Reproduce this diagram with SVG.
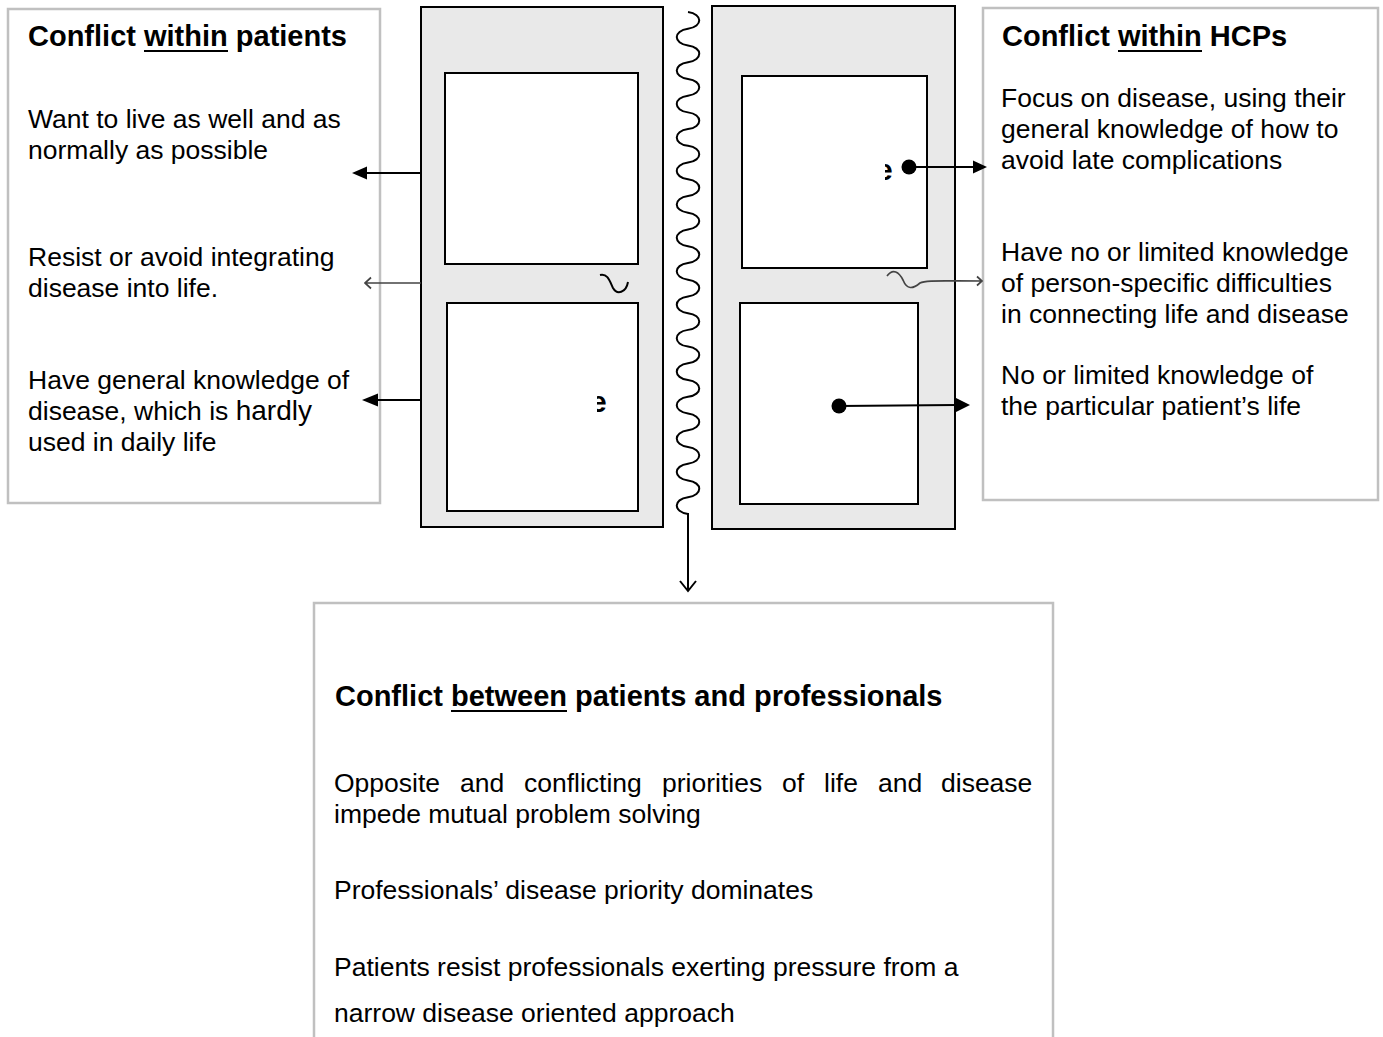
<svg xmlns="http://www.w3.org/2000/svg" width="1383" height="1037" viewBox="0 0 1383 1037">
<style>
.tb{fill:#fff;stroke:#c0c0c0;stroke-width:2.5}
.panel{fill:#e9e9e9;stroke:#000;stroke-width:2}
.inner{fill:#fff;stroke:#000;stroke-width:2}
.t{font-family:"Liberation Sans",Arial,sans-serif;font-size:26.5px;fill:#000}
.h{font-family:"Liberation Sans",Arial,sans-serif;font-size:29px;font-weight:bold;fill:#000}
.ul{stroke:#000;stroke-width:2.2}
.ln{stroke:#000;stroke-width:2;fill:none}
.gl{stroke:#444;stroke-width:1.7;fill:none}
.frag{font-family:"Liberation Sans",Arial,sans-serif;font-size:30px;font-weight:bold;fill:#000}
</style>
<defs>
<clipPath id="c1"><rect x="597" y="380" width="20" height="40"/></clipPath>
<clipPath id="c2"><rect x="885" y="150" width="20" height="40"/></clipPath>
</defs>

<g id="patients-box">
<rect class="tb" x="8" y="9" width="372" height="494"/>
<text class="h" x="28" y="46">Conflict within patients</text>
<line class="ul" x1="144" y1="51" x2="228" y2="51"/>
<text class="t" x="28" y="128">Want to live as well and as</text>
<text class="t" x="28" y="159">normally as possible</text>
<text class="t" x="28" y="266">Resist or avoid integrating</text>
<text class="t" x="28" y="297">disease into life.</text>
<text class="t" x="28" y="389">Have general knowledge of</text>
<text class="t" x="28" y="420">disease, which is <tspan font-size="28">hardly</tspan></text>
<text class="t" x="28" y="451">used in daily life</text>
</g>

<g id="hcps-box">
<rect class="tb" x="983" y="8" width="395" height="492"/>
<text class="h" x="1002" y="46">Conflict within HCPs</text>
<line class="ul" x1="1118" y1="51" x2="1202" y2="51"/>
<text class="t" x="1001" y="107">Focus on disease, using their</text>
<text class="t" x="1001" y="138">general knowledge of how to</text>
<text class="t" x="1001" y="169">avoid late complications</text>
<text class="t" x="1001" y="261">Have no or limited knowledge</text>
<text class="t" x="1001" y="292">of person-specific difficulties</text>
<text class="t" x="1001" y="323">in connecting life and disease</text>
<text class="t" x="1001" y="384">No or limited knowledge of</text>
<text class="t" x="1001" y="415">the particular patient’s life</text>
</g>

<g id="patient-panel">
<rect class="panel" x="421" y="7" width="242" height="520"/>
<rect class="inner" x="445" y="73" width="193" height="191"/>
<rect class="inner" x="447" y="303" width="191" height="208"/>
<text class="frag" x="590" y="412" clip-path="url(#c1)">e</text>
</g>

<g id="hcp-panel">
<rect class="panel" x="712" y="6" width="243" height="523"/>
<rect class="inner" x="742" y="76" width="185" height="192"/>
<rect class="inner" x="740" y="303" width="178" height="201"/>
<text class="frag" x="876" y="180" clip-path="url(#c2)">e</text>
</g>

<g id="between-box">
<rect class="tb" x="314" y="603" width="739" height="460"/>
<text class="h" x="335" y="706">Conflict between patients and professionals</text>
<line class="ul" x1="451" y1="711" x2="567" y2="711"/>
<text class="t" y="792"><tspan x="334">Opposite</tspan><tspan x="460">and</tspan><tspan x="524">conflicting</tspan><tspan x="662">priorities</tspan><tspan x="782">of</tspan><tspan x="824">life</tspan><tspan x="878">and</tspan><tspan x="941">disease</tspan></text>
<text class="t" x="334" y="823">impede mutual problem solving</text>
<text class="t" x="334" y="899">Professionals’ disease priority dominates</text>
<text class="t" x="334" y="976">Patients resist professionals exerting pressure from a</text>
<text class="t" x="334" y="1022">narrow disease oriented approach</text>
</g>

<g id="connectors">
<path class="ln" d="M688,12 c15,2 15,14.7 0,16.73 s-15,14.7 0,16.73 s15,14.7 0,16.73 s-15,14.7 0,16.73 s15,14.7 0,16.73 s-15,14.7 0,16.73 s15,14.7 0,16.73 s-15,14.7 0,16.73 s15,14.7 0,16.73 s-15,14.7 0,16.73 s15,14.7 0,16.73 s-15,14.7 0,16.73 s15,14.7 0,16.73 s-15,14.7 0,16.73 s15,14.7 0,16.73 s-15,14.7 0,16.73 s15,14.7 0,16.73 s-15,14.7 0,16.73 s15,14.7 0,16.73 s-15,14.7 0,16.73 s15,14.7 0,16.73 s-15,14.7 0,16.73 s15,14.7 0,16.73 s-15,14.7 0,16.73 s15,14.7 0,16.73 s-15,14.7 0,16.73 s15,14.7 0,16.73 s-15,14.7 0,16.73 s15,14.7 0,16.73 s-15,14.7 0,16.73"/>
<path class="ln" d="M688,513 L688,591 M680,581 L688,591 L696,581"/>

<path class="ln" d="M421,173 L366,173"/>
<polygon points="352,173 367,166.5 367,179.5" fill="#000"/>
<path class="gl" d="M421,283 L365,283 M371,277.5 L365,283 L371,288.5"/>
<path class="ln" d="M421,400 L377,400"/>
<polygon points="362,400 378,393.5 378,406.5" fill="#000"/>

<path class="ln" d="M600,275 C608,273 610,282 613,288 C617,295 626,293 628,282" stroke-width="1.6"/>

<circle cx="909" cy="167" r="7.5" fill="#000"/>
<path class="ln" d="M909,167 L974,167"/>
<polygon points="987,167 973,160.5 973,173.5" fill="#000"/>

<path class="gl" d="M887,276 C893,268 899,272 903,280 C907,290 913,289 920,283 C925,280 940,281 982,281 M977,276.5 L982,281 L977,285.5"/>

<circle cx="839" cy="406" r="7.5" fill="#000"/>
<path class="ln" d="M839,406 L956,405"/>
<polygon points="970,405 955,397.5 955,412.5" fill="#000"/>
</g>
</svg>
